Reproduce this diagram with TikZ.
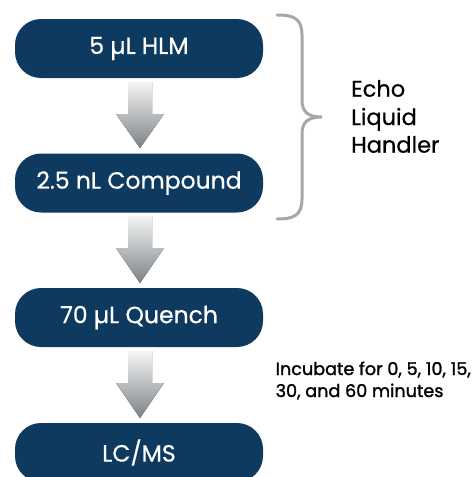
\documentclass[tikz,border=0pt]{standalone}
\usepackage{fontspec}
\setmainfont{Poppins}
\newfontfamily\medfont{Poppins}[FakeBold=0.5]
\newfontfamily\semifont{Poppins}[FakeBold=1.4]
\definecolor{navy}{HTML}{0F3A5F}
\definecolor{bracegray}{HTML}{A3A8AC}
\definecolor{arrowtop}{HTML}{F4F5F5}
\definecolor{arrowbot}{HTML}{7E8286}
\tikzset{
  x=1pt,y=-1pt,
  stepbox/.style={fill=navy, rounded corners=26pt, minimum width=248pt, minimum height=59pt, inner sep=0pt, text=white, font=\medfont\fontsize{23.5}{26}\selectfont},
  flowarrow/.style={top color=arrowtop, bottom color=arrowbot, draw=none},
  sidelabel/.style={anchor=base west, inner sep=0pt, font=\medfont\fontsize{22.5}{27}\selectfont},
  inclabel/.style={anchor=base west, inner sep=0pt, font=\semifont\fontsize{17.6}{22}\selectfont}
}
\begin{document}
\begin{tikzpicture}
\clip (0,0) rectangle (476,477);
\fill[white] (0,0) rectangle (476,477);
\node[stepbox] (b1) at (139,48.5) {5 µL HLM};
\node[stepbox] (b2) at (139,183) {2.5 nL Compound};
\node[stepbox] (b3) at (139,317.5) {70 µL Quench};
\node[stepbox] (b4) at (139,452.5) {LC/MS};
\fill[flowarrow]
  (128,82) -- (152,82) -- (152,114) -- (164,114) -- (140,148) -- (116,114) -- (128,114) -- cycle;
\fill[flowarrow]
  (128,216) -- (152,216) -- (152,248) -- (164,248) -- (140,283) -- (116,248) -- (128,248) -- cycle;
\fill[flowarrow]
  (128,351) -- (152,351) -- (152,383) -- (164,383) -- (140,418) -- (116,383) -- (128,383) -- cycle;
\coordinate (bt) at (277,15);
\coordinate (bm) at (322,117);
\coordinate (bb) at (277,219);
\draw[bracegray, line width=3pt, line cap=round]
  (bt) .. controls (293,15) and (302,18) .. (302,35) -- (302,100)
  .. controls (302,112) and (308,117) .. (bm)
  .. controls (308,117) and (302,122) .. (302,134) -- (302,199)
  .. controls (302,216) and (293,219) .. (bb);
\node[sidelabel] (l1) at (351,96.7) {Echo};
\node[sidelabel] (l2) at (351,125) {Liquid};
\node[sidelabel] (l3) at (351,152.7) {Handler};
\node[inclabel] (i1) at (275.5,375) {Incubate for 0, 5, 10, 15,};
\node[inclabel] (i2) at (275.5,397) {30, and 60 minutes};
\end{tikzpicture}
\end{document}
